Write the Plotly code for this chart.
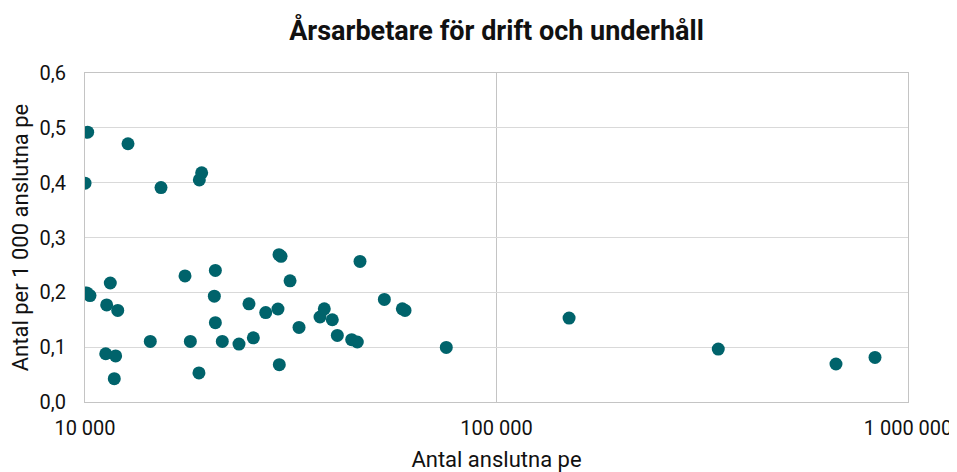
import plotly.graph_objects as go

# Antal anslutna pe (x) och årsarbetare per 1 000 anslutna pe (y)
anslutna_pe = [
    10150, 12720, 10000, 15300, 19210, 18960,
    10100, 10284, 11520, 11290, 12010, 11230, 11870, 11780,
    14410, 17500, 18030, 18920, 20740, 20620, 20740, 21560,
    23670, 25030, 25650, 27490, 29440, 29610, 29950, 29660,
    31500, 33120, 37250, 38150, 39900, 41040, 44470, 45890, 46590,
    53390, 59040, 59940, 75500,
    150100, 345900, 668300, 831400,
]
arsarbetare = [
    0.492, 0.471, 0.399, 0.391, 0.418, 0.405,
    0.199, 0.194, 0.217, 0.177, 0.167, 0.088, 0.084, 0.0425,
    0.1105, 0.230, 0.1105, 0.053, 0.240, 0.193, 0.1446, 0.1105,
    0.1057, 0.179, 0.117, 0.163, 0.1696, 0.2686, 0.2656, 0.068,
    0.221, 0.136, 0.155, 0.170, 0.150, 0.1215, 0.1136, 0.1094, 0.2564,
    0.187, 0.170, 0.167, 0.0996,
    0.153, 0.0966, 0.0693, 0.0813,
]

x_ticks = [10000, 100000, 1000000]
x_ticktext = ['10 000', '100 000', '1 000 000']
y_ticks = [0, 0.1, 0.2, 0.3, 0.4, 0.5, 0.6]
y_ticktext = ['0,0', '0,1', '0,2', '0,3', '0,4', '0,5', '0,6']

fig = go.Figure(go.Scatter(
    x=anslutna_pe, y=arsarbetare, mode='markers',
    marker=dict(size=13, color='#00636B'),
    hoverinfo='x+y',
))

# sidan har 8 px marginal i webbläsaren, därför 949x464
fig.update_layout(
    width=949, height=464,
    margin=dict(l=77, r=49, t=65, b=70),
    paper_bgcolor='white', plot_bgcolor='white',
    font=dict(family='Roboto, Inter, sans-serif', color='#111111', size=20),
    title=dict(text='<b>Årsarbetare för drift och underhåll</b>', x=0.5, xref='paper',
               y=1 - 23 / 464, yref='container', yanchor='middle',
               font=dict(size=27, color='#111111')),
    showlegend=False,
)
fig.update_xaxes(
    type='log', range=[4, 6], tickvals=x_ticks, ticktext=x_ticktext,
    showgrid=True, gridcolor='#c4c4c4', gridwidth=1,
    showline=True, linecolor='#c4c4c4', mirror=True, ticks='',
    ticklabelstandoff=8, automargin=False,
    title=dict(text='Antal anslutna pe', font=dict(size=22), standoff=12),
    tickfont=dict(size=20),
)
fig.update_yaxes(
    range=[0, 0.6], tickvals=y_ticks, ticktext=y_ticktext,
    showgrid=True, gridcolor='#d9d9d9', gridwidth=1, zeroline=False,
    showline=True, linecolor='#c4c4c4', mirror=True, ticks='',
    ticklabelstandoff=14, automargin=False,
    title=dict(text='Antal per 1 000 anslutna pe', font=dict(size=22), standoff=10),
    tickfont=dict(size=20),
)

fig.write_html("out.html")
